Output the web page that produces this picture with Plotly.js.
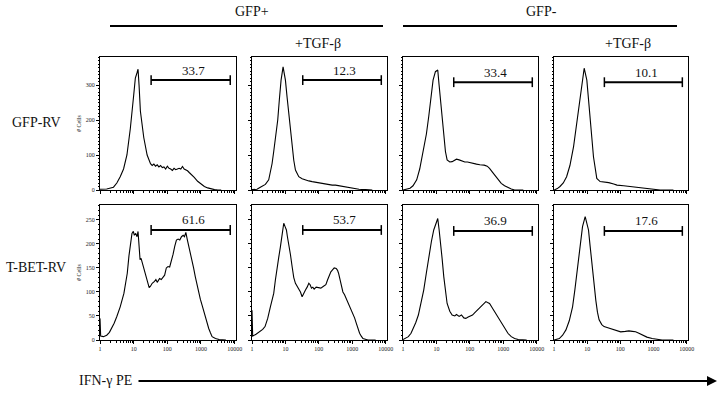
<!DOCTYPE html>
<html><head><meta charset="utf-8">
<script src="https://cdn.plot.ly/plotly-3.0.1.min.js"></script>
<style>html,body{margin:0;padding:0;background:#fff}#chart{width:720px;height:402px}</style>
</head><body><div id="chart"></div>
<script>
// ---------- data ----------
const groupLabels = ['GFP+', 'GFP-'];
const treatLabels = ['', '+TGF-β', '', '+TGF-β'];
const rowLabels = ['GFP-RV', 'T-BET-RV'];
const xTickVals = [1, 10, 100, 1000, 10000];
const xTickText = ['1', '10', '100', '1000', '10000'];
const yTicksRow1 = [0, 100, 200, 300];
const yTicksRow2 = [0, 50, 100, 150, 200, 250];
const gatePercentRow1 = ['33.7', '12.3', '33.4', '10.1'];
const gatePercentRow2 = ['61.6', '53.7', '36.9', '17.6'];
const gateLow = [33, 33, 33, 33];
const gateHigh = [7400, 7400, 7400, 7400];
const gateCountRow1 = [314, 314, 308, 308];
const gateCountRow2 = [229, 229, 227, 227];
const axisTitle = '# Cells';
const xCaption = 'IFN-γ PE';

// histograms: decade exponent of fluorescence, and cell counts
const r1c1Exp = [0,0.2,0.4,0.5,0.6,0.7,0.8,0.9,1.0,1.05,1.1,1.13,1.16,1.2,1.3,1.4,1.5,1.55,1.6,1.65,1.7,1.75,1.8,1.85,1.9,1.95,2.0,2.05,2.1,2.15,2.2,2.25,2.3,2.35,2.4,2.45,2.5,2.55,2.6,2.65,2.7,2.8,2.9,3.0,3.1,3.2,3.3,3.4,3.5,3.6];
const r1c1Cnt = [2,3,8,20,38,60,100,175,270,320,335,345,300,225,150,100,75,70,74,68,72,66,70,64,66,60,68,62,60,56,62,58,60,62,60,67,60,58,55,50,46,36,25,18,10,6,3,1,0,0];
const r1c2Exp = [0,0.15,0.25,0.3,0.4,0.5,0.6,0.65,0.7,0.77,0.82,0.87,0.93,1.0,1.05,1.1,1.15,1.2,1.25,1.3,1.4,1.5,1.6,1.7,1.8,1.9,2.0,2.1,2.2,2.3,2.4,2.5,2.6,2.7,2.8,2.9,3.0,3.1,3.2,3.4,3.6];
const r1c2Cnt = [1,2,8,11,16,29,75,110,150,200,260,314,352,314,265,219,170,124,85,57,38,32,28,26,24,22,20,18,17,15,14,14,12,11,8,6,5,3,2,1,0];
const r1c3Exp = [0,0.1,0.21,0.3,0.41,0.5,0.62,0.7,0.77,0.85,0.9,0.97,1.04,1.08,1.12,1.17,1.22,1.27,1.32,1.4,1.47,1.55,1.6,1.68,1.75,1.85,1.93,2.0,2.13,2.2,2.3,2.43,2.52,2.59,2.67,2.74,2.84,2.94,3.04,3.14,3.24,3.34,3.6];
const r1c3Cnt = [0,2,5,12,29,60,114,160,210,280,314,338,343,300,257,200,152,110,86,80,81,86,88,86,84,80,80,78,76,74,72,71,68,62,52,43,30,19,12,7,3,0,0];
const r1c4Exp = [0,0.1,0.18,0.28,0.38,0.48,0.59,0.67,0.74,0.8,0.84,0.91,0.99,1.04,1.09,1.14,1.19,1.24,1.29,1.39,1.5,1.65,1.8,1.9,2.1,2.3,2.5,2.7,2.85,3.0,3.2,3.6];
const r1c4Cnt = [0,4,10,20,38,70,124,180,228,280,314,348,314,265,210,150,95,55,33,24,23,21,17,14,12,10,8,5,3,1,0,0];
const r2c1Exp = [0,0.02,0.1,0.2,0.28,0.35,0.42,0.5,0.6,0.71,0.81,0.86,0.91,0.95,0.99,1.02,1.06,1.1,1.13,1.16,1.19,1.22,1.26,1.31,1.36,1.41,1.46,1.5,1.55,1.62,1.66,1.7,1.77,1.82,1.87,1.92,1.97,2.02,2.07,2.12,2.17,2.22,2.27,2.32,2.37,2.42,2.47,2.51,2.55,2.59,2.63,2.68,2.73,2.78,2.83,2.88,2.93,2.98,3.03,3.08,3.13,3.18,3.23,3.28,3.33,3.43,3.54,3.74];
const r2c1Cnt = [45,8,7,10,16,24,35,49,69,97,139,175,208,222,226,218,222,215,226,200,167,170,160,145,132,118,109,112,118,122,126,120,128,126,132,135,150,153,152,163,178,195,208,210,208,215,218,215,224,210,198,185,170,150,132,115,97,85,73,60,45,35,24,15,7,3,1,0];
const r2c2Exp = [0,0.02,0.12,0.24,0.32,0.39,0.47,0.55,0.6,0.65,0.7,0.75,0.8,0.85,0.9,0.95,0.99,1.03,1.06,1.1,1.15,1.2,1.25,1.3,1.35,1.4,1.45,1.5,1.55,1.6,1.65,1.7,1.74,1.78,1.82,1.86,1.92,2.0,2.06,2.14,2.21,2.26,2.31,2.36,2.41,2.46,2.52,2.56,2.59,2.63,2.67,2.72,2.77,2.82,2.87,2.95,3.02,3.07,3.12,3.17,3.22,3.27,3.32,3.47,3.7];
const r2c2Cnt = [62,8,12,17,22,28,45,69,82,97,125,153,172,194,215,243,236,229,215,201,178,153,130,118,112,108,100,90,98,104,110,118,115,108,110,106,110,108,108,112,115,125,135,142,146,150,149,145,139,125,111,100,94,86,80,68,56,46,35,24,14,8,3,0,0];
const r2c3Exp = [0,0.16,0.24,0.31,0.38,0.46,0.54,0.62,0.7,0.77,0.85,0.92,0.98,1.04,1.08,1.12,1.17,1.22,1.27,1.32,1.4,1.47,1.55,1.6,1.68,1.75,1.82,1.88,1.95,2.02,2.08,2.15,2.22,2.28,2.35,2.42,2.48,2.53,2.59,2.66,2.74,2.84,2.94,3.04,3.14,3.24,3.34,3.45,3.55,3.7];
const r2c3Cnt = [1,7,14,24,36,52,75,104,140,174,205,229,240,253,230,208,170,132,100,76,60,52,50,53,49,52,46,45,48,50,52,57,62,66,71,76,80,78,76,68,59,47,35,24,14,7,3,1,0,0];
const r2c4Exp = [0,0.16,0.26,0.36,0.46,0.56,0.63,0.71,0.78,0.86,0.94,0.99,1.04,1.09,1.14,1.2,1.26,1.31,1.36,1.44,1.51,1.6,1.76,1.9,2.01,2.15,2.26,2.36,2.46,2.56,2.66,2.8,2.96,3.1,3.26,3.6];
const r2c4Cnt = [0,3,10,21,40,69,105,153,195,236,257,245,229,195,160,120,83,58,42,32,28,26,22,19,17,18,19,18,17,14,10,6,3,1,0,0];

// ---------- build ----------
const W = 720, H = 402;
const colPx = [[100, 236], [252, 387], [403, 538], [554, 688]];
const rowPx = [[57, 190], [205, 340]];
const font = '"Liberation Serif", "Times New Roman", serif';

const hist = [
  [[r1c1Exp, r1c1Cnt], [r1c2Exp, r1c2Cnt], [r1c3Exp, r1c3Cnt], [r1c4Exp, r1c4Cnt]],
  [[r2c1Exp, r2c1Cnt], [r2c2Exp, r2c2Cnt], [r2c3Exp, r2c3Cnt], [r2c4Exp, r2c4Cnt]]
];
const gatePct = [gatePercentRow1, gatePercentRow2];
const gateCnt = [gateCountRow1, gateCountRow2];
const yTicks = [yTicksRow1, yTicksRow2];
const yRange = [[0, 380], [0, 281]];

const traces = [];
const layout = {
  width: W, height: H, margin: {l: 0, r: 0, t: 0, b: 0},
  paper_bgcolor: '#fff', plot_bgcolor: '#fff', showlegend: false,
  font: {family: font, color: '#111'},
  annotations: [], shapes: []
};

function paperText(xpx, ypx, text, size) {
  layout.annotations.push({
    xref: 'paper', yref: 'paper', x: xpx / W, y: 1 - ypx / H,
    xanchor: 'center', yanchor: 'middle',
    text: text, showarrow: false, font: {family: font, size: size, color: '#111'}
  });
}

for (let r = 0; r < 2; r++) {
  for (let c = 0; c < 4; c++) {
    const k = r * 4 + c + 1;
    const xa = k === 1 ? 'x' : 'x' + k;
    const ya = k === 1 ? 'y' : 'y' + k;
    const [ex, cnt] = hist[r][c];
    traces.push({
      x: ex.map(e => Math.pow(10, e)), y: cnt, xaxis: xa, yaxis: ya,
      type: 'scatter', mode: 'lines', line: {color: '#000', width: 1.1},
      hoverinfo: 'skip'
    });
    traces.push({
      x: [gateLow[c], gateHigh[c]], y: [gateCnt[r][c], gateCnt[r][c]],
      xaxis: xa, yaxis: ya, type: 'scatter', mode: 'lines+markers',
      line: {color: '#000', width: 2},
      marker: {symbol: 'line-ns-open', size: 7, line: {color: '#000', width: 1.5}},
      hoverinfo: 'skip'
    });
    layout.annotations.push({
      xref: xa, yref: ya, x: Math.log10(Math.sqrt(gateLow[c] * gateHigh[c])) + 0.08,
      y: gateCnt[r][c], yshift: 10, xanchor: 'center', yanchor: 'middle',
      showarrow: false, text: gatePct[r][c],
      font: {family: font, size: 13, color: '#111'}
    });
    const xName = k === 1 ? 'xaxis' : 'xaxis' + k;
    const yName = k === 1 ? 'yaxis' : 'yaxis' + k;
    layout[xName] = {
      type: 'log', domain: [colPx[c][0] / W, colPx[c][1] / W], range: [0, 4.04],
      anchor: ya, showgrid: false, zeroline: false,
      showline: true, linecolor: '#000', linewidth: 1, mirror: true,
      ticks: 'outside', ticklen: 3, tickwidth: 1, tickcolor: '#000',
      tickvals: xTickVals, ticktext: xTickText, showticklabels: r === 1,
      tickfont: {family: font, size: 6, color: '#222'},
      minor: {ticks: 'outside', ticklen: 1.5, tickcolor: '#000', dtick: 'D1', showgrid: false}
    };
    layout[yName] = {
      domain: [1 - rowPx[r][1] / H, 1 - rowPx[r][0] / H], range: yRange[r],
      anchor: xa, showgrid: false, zeroline: false,
      showline: true, linecolor: '#000', linewidth: 1, mirror: true,
      ticks: 'outside', ticklen: 3, tickwidth: 1, tickcolor: '#000',
      tickvals: yTicks[r], showticklabels: c === 0,
      tickfont: {family: font, size: 6, color: '#222'},
      minor: {ticks: 'outside', ticklen: 1.5, tickcolor: '#000', dtick: 10, showgrid: false},
      title: c === 0 ? {text: axisTitle, font: {family: font, size: 6, color: '#222'}, standoff: 3} : {text: ''}
    };
  }
}

// header: group labels, underlines, treatment labels
const groupCenters = [252, 541];
const groupLines = [[110, 383], [403, 677]];
for (let g = 0; g < 2; g++) {
  paperText(groupCenters[g], 11, groupLabels[g], 14);
  layout.shapes.push({
    type: 'line', xref: 'paper', yref: 'paper',
    x0: groupLines[g][0] / W, x1: groupLines[g][1] / W, y0: 1 - 26 / H, y1: 1 - 26 / H,
    line: {color: '#000', width: 2}
  });
}
const treatCenters = [0, 318, 0, 628];
treatLabels.forEach((t, i) => { if (t) paperText(treatCenters[i], 43, t, 14); });
const rowCenters = [122, 267];
rowLabels.forEach((t, i) => paperText(36, rowCenters[i], t, 14));
// x caption and arrow
paperText(105, 380, xCaption, 14);
layout.annotations.push({
  xref: 'paper', yref: 'paper', x: 717 / W, y: 1 - 381 / H, ax: -580, ay: 0,
  text: '', showarrow: true, arrowhead: 2, arrowsize: 1, arrowwidth: 2, arrowcolor: '#000'
});

Plotly.newPlot('chart', traces, layout, {staticPlot: true, displayModeBar: false});
</script>
</body></html>
